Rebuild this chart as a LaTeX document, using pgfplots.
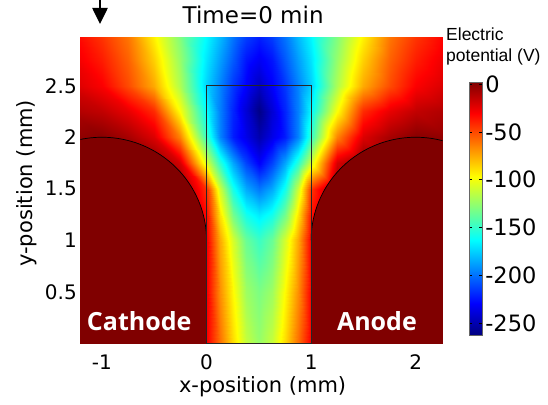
\documentclass[border=0pt]{standalone}
\usepackage{fontspec}
\setmainfont{DejaVu Sans}
\newfontfamily\osans{Open Sans}
\newfontfamily\libsans{Liberation Sans}
\usepackage{pgfplots}
\pgfplotsset{compat=1.18}
\usetikzlibrary{arrows.meta}
\definecolor{elec}{RGB}{128,0,0}

\begin{document}
\begin{tikzpicture}
\begin{axis}[name=ax, scale only axis, width=362.4pt, height=306pt,
  xmin=-1.207, xmax=2.258, ymin=0, ymax=2.97,
  axis line style={line width=1pt},
  xtick={-1,0,1,2}, xticklabels={-1,0,1,2},
  ytick={0.5,1,1.5,2,2.5}, yticklabels={0.5,1,1.5,2,2.5},
  tick align=inside, major tick length=4pt,
  tick style={black, line width=0.8pt},
  tick label style={font=\fontsize{20}{20}\selectfont},
  xticklabel style={yshift=-8pt},
  colormap/jet, point meta min=-262, point meta max=2,
  colorbar,
  colorbar style={at={(parent axis.north east)}, anchor=north west,
    xshift=18pt, yshift=-44.7pt, scale only axis, width=12.6pt, height=253pt,
    ytick={-250,-200,-150,-100,-50,0},
    yticklabels={-250,-200,-150,-100,-50,0},
    yticklabel style={font=\fontsize{22.5}{22.5}\selectfont},
    axis line style={black!60, line width=0.6pt},
    major tick length=3pt, tick style={black, line width=0.6pt}},
  title={Time=0 min},
  title style={at={(axis description cs:0.477,1.024)}, anchor=base,
    font=\fontsize{23}{23}\selectfont},
  xlabel={x-position (mm)},
  xlabel style={at={(axis description cs:0.503,-0.162)}, anchor=base,
    font=\fontsize{21}{21}\selectfont},
  ylabel={y-position (mm)},
  ylabel style={at={(axis description cs:-0.148,0.523)}, anchor=center,
    font=\fontsize{21}{21}\selectfont},
]
\addplot[surf, shader=interp, mesh/cols=19, point meta=explicit]
  table[x=x, y=y, meta=v] {
x y v
-1.3 0 0
-1 0 0
-0.75 0 0
-0.5 0 0
-0.25 0 0
0 0 -30
0.125 0 -60
0.25 0 -88
0.375 0 -112
0.5 0 -124
0.625 0 -112
0.75 0 -88
0.875 0 -60
1 0 -30
1.25 0 0
1.5 0 0
1.75 0 0
2 0 0
2.3 0 0
-1.3 0.5 0
-1 0.5 0
-0.75 0.5 0
-0.5 0.5 0
-0.25 0.5 0
0 0.5 -30
0.125 0.5 -68
0.25 0.5 -96
0.375 0.5 -122
0.5 0.5 -131
0.625 0.5 -122
0.75 0.5 -96
0.875 0.5 -68
1 0.5 -30
1.25 0.5 0
1.5 0.5 0
1.75 0.5 0
2 0.5 0
2.3 0.5 0
-1.3 1 0
-1 1 0
-0.75 1 0
-0.5 1 0
-0.25 1 0
0 1 -30
0.125 1 -75
0.25 1 -108
0.375 1 -136
0.5 1 -148
0.625 1 -136
0.75 1 -108
0.875 1 -75
1 1 -30
1.25 1 0
1.5 1 0
1.75 1 0
2 1 0
2.3 1 0
-1.3 1.25 0
-1 1.25 0
-0.75 1.25 0
-0.5 1.25 0
-0.25 1.25 0
0 1.25 -35
0.125 1.25 -90
0.25 1.25 -133
0.375 1.25 -158
0.5 1.25 -168
0.625 1.25 -158
0.75 1.25 -133
0.875 1.25 -90
1 1.25 -35
1.25 1.25 0
1.5 1.25 0
1.75 1.25 0
2 1.25 0
2.3 1.25 0
-1.3 1.5 0
-1 1.5 0
-0.75 1.5 0
-0.5 1.5 0
-0.25 1.5 0
0 1.5 -45
0.125 1.5 -110
0.25 1.5 -158
0.375 1.5 -185
0.5 1.5 -198
0.625 1.5 -185
0.75 1.5 -158
0.875 1.5 -110
1 1.5 -45
1.25 1.5 0
1.5 1.5 0
1.75 1.5 0
2 1.5 0
2.3 1.5 0
-1.3 1.75 0
-1 1.75 0
-0.75 1.75 0
-0.5 1.75 0
-0.25 1.75 -20
0 1.75 -108
0.125 1.75 -152
0.25 1.75 -186
0.375 1.75 -212
0.5 1.75 -230
0.625 1.75 -212
0.75 1.75 -186
0.875 1.75 -152
1 1.75 -108
1.25 1.75 -20
1.5 1.75 0
1.75 1.75 0
2 1.75 0
2.3 1.75 0
-1.3 2 -3
-1 2 0
-0.75 2 -8
-0.5 2 -22
-0.25 2 -65
0 2 -150
0.125 2 -195
0.25 2 -222
0.375 2 -235
0.5 2 -250
0.625 2 -235
0.75 2 -222
0.875 2 -195
1 2 -150
1.25 2 -65
1.5 2 -22
1.75 2 -8
2 2 0
2.3 2 -3
-1.3 2.25 -10
-1 2.25 -15
-0.75 2.25 -25
-0.5 2.25 -42
-0.25 2.25 -98
0 2.25 -164
0.125 2.25 -196
0.25 2.25 -220
0.375 2.25 -240
0.5 2.25 -260
0.625 2.25 -240
0.75 2.25 -220
0.875 2.25 -196
1 2.25 -164
1.25 2.25 -98
1.5 2.25 -42
1.75 2.25 -25
2 2.25 -15
2.3 2.25 -10
-1.3 2.5 -20
-1 2.5 -30
-0.75 2.5 -50
-0.5 2.5 -75
-0.25 2.5 -118
0 2.5 -175
0.125 2.5 -195
0.25 2.5 -215
0.375 2.5 -230
0.5 2.5 -245
0.625 2.5 -230
0.75 2.5 -215
0.875 2.5 -195
1 2.5 -175
1.25 2.5 -118
1.5 2.5 -75
1.75 2.5 -50
2 2.5 -30
2.3 2.5 -20
-1.3 2.75 -25
-1 2.75 -38
-0.75 2.75 -56
-0.5 2.75 -85
-0.25 2.75 -124
0 2.75 -170
0.125 2.75 -188
0.25 2.75 -206
0.375 2.75 -224
0.5 2.75 -232
0.625 2.75 -224
0.75 2.75 -206
0.875 2.75 -188
1 2.75 -170
1.25 2.75 -124
1.5 2.75 -85
1.75 2.75 -56
2 2.75 -38
2.3 2.75 -25
-1.3 3 -30
-1 3 -45
-0.75 3 -62
-0.5 3 -95
-0.25 3 -130
0 3 -164
0.125 3 -180
0.25 3 -198
0.375 3 -212
0.5 3 -220
0.625 3 -212
0.75 3 -198
0.875 3 -180
1 3 -164
1.25 3 -130
1.5 3 -95
1.75 3 -62
2 3 -45
2.3 3 -30
};
% electrodes
\fill[elec] (-2.2,-0.1) -- (0,-0.1) -- (0,1) -- plot[domain=0:180, samples=91, variable=\t] ({-1+cos(\t)},{1+sin(\t)}) -- (-2.2,1) -- cycle;
\fill[elec] (3.2,-0.1) -- (1,-0.1) -- (1,1) -- plot[domain=180:0, samples=91, variable=\t] ({2+cos(\t)},{1+sin(\t)}) -- (3.2,1) -- cycle;
\draw[black, line width=0.7pt] plot[domain=0:180, samples=91, variable=\t] ({-1+cos(\t)},{1+sin(\t)});
\draw[black, line width=0.7pt] plot[domain=180:0, samples=91, variable=\t] ({2+cos(\t)},{1+sin(\t)});
\draw[black!85, line width=0.9pt] (0,0) rectangle (1,2.5);
\node[font=\osans\bfseries\fontsize{25}{25}\selectfont, text=white, anchor=base] at (-0.644,0.122) {Cathode};
\node[font=\osans\bfseries\fontsize{25}{25}\selectfont, text=white, anchor=base] at (1.629,0.122) {Anode};
\end{axis}
\node[anchor=base west, inner sep=0pt, font=\libsans\fontsize{17.5}{17.5}\selectfont] at ([xshift=365.7pt, yshift=-3.4pt]ax.north west) {Electric};
\node[anchor=base west, inner sep=0pt, font=\libsans\fontsize{17.5}{17.5}\selectfont] at ([xshift=365.7pt, yshift=-24.4pt]ax.north west) {potential (V)};
\draw[line width=2.6pt, -{Triangle[length=16pt, width=15pt]}] ([xshift=19.7pt, yshift=37.3pt]ax.north west) -- ([xshift=19.7pt, yshift=13.3pt]ax.north west);
\pgfresetboundingbox
\path[use as bounding box] ([xshift=-80.3pt, yshift=-60.7pt]ax.south west) rectangle ++(548pt,404pt);
\end{tikzpicture}
\end{document}
